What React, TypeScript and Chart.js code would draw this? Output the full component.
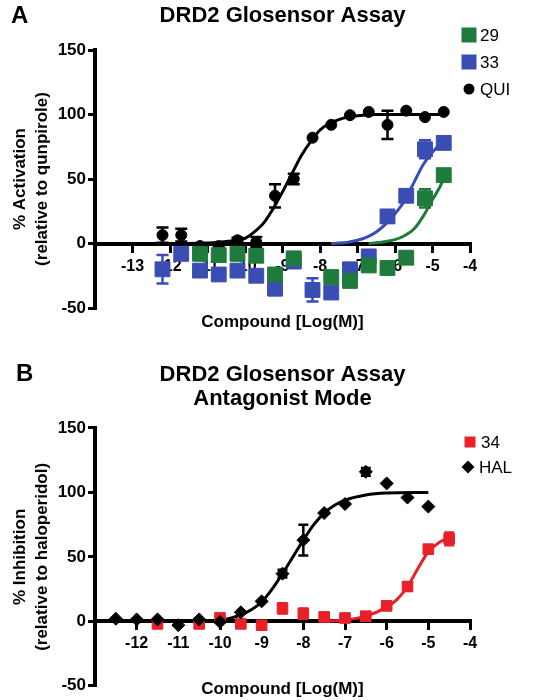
import React, { useEffect, useRef } from 'react';
import { Chart, registerables } from 'chart.js';

Chart.register(...registerables);

const FONT = "'Liberation Sans', Arial, Helvetica, sans-serif";
const GREEN = '#1f7b3b';
const BLUE = '#3a4db2';
const RED = '#e8202a';
const BLACK = '#000000';

const X_TITLE = 'Compound [Log(M)]';

// ---------------- Panel A ----------------
const A_TITLE = 'DRD2 Glosensor Assay';
const A_Y_TITLE = ['% Activation', '(relative to qunpirole)'];
const A_X = [-12.2, -11.7, -11.2, -10.7, -10.2, -9.7, -9.2, -8.7, -8.2, -7.7, -7.2, -6.7, -6.2, -5.7, -5.2, -4.7];
const A_QUI = [6.5, 6.5, -2, -2, 2.5, 1, 37, 50, 82, 92, 99.5, 102, 92, 103, 98, 102];
const A_QUI_ERR = [6, 5, 0, 0, 2, 4, 9, 4, 0, 0, 0, 0, 11, 0, 0, 0];
const A_33 = [-20, -8, -21, -24, -21, -25, -35, -14, -36, -38, -20, -10, 21, 37, 73, 78];
const A_33_ERR = [11, 0, 0, 0, 0, 0, 5, 0, 9, 0, 0, 0, 0, 0, 7, 0];
const A_29 = [null, null, -8, -9, -8, -9.5, -24, -11.5, null, -26, -29, -17, -19, -11, 35, 53];
const A_29_ERR = [0, 0, 0, 0, 0, 0, 0, 0, 0, 0, 0, 0, 0, 4, 7, 0];

const A_QUI_FIT_X = [-12.2, -11, -10.5, -10, -9.75, -9.5, -9.25, -9, -8.75, -8.5, -8.25, -8, -7.75, -7.5, -7.25, -7, -6.5, -5.5, -4.7];
const A_QUI_FIT_Y = [0, 0.4, 1.5, 4, 9, 16, 27, 40, 54, 68, 79, 88, 93, 96, 98, 99, 100, 100, 100];
const A_33_FIT_X = [-7.7, -7.5, -7.25, -7, -6.75, -6.5, -6.25, -6, -5.75, -5.5, -5.25, -5, -4.75, -4.7];
const A_33_FIT_Y = [0, 0.3, 1, 2.5, 5, 9, 15, 23, 33, 47, 61, 71, 78, 79];
const A_29_FIT_X = [-6.7, -6.5, -6.25, -6, -5.75, -5.5, -5.25, -5, -4.75, -4.7];
const A_29_FIT_Y = [0, 0.5, 1.5, 3, 6, 11, 21, 34, 47, 51];

const A_LEGEND = ['29', '33', 'QUI'];

// ---------------- Panel B ----------------
const B_TITLE = ['DRD2 Glosensor Assay', 'Antagonist Mode'];
const B_Y_TITLE = ['% Inhibition', '(relative to haloperidol)'];
const B_HAL_X = [-12.5, -12, -11.5, -11, -10.5, -10, -9.5, -9, -8.5, -8, -7.5, -7, -6.5, -6, -5.5, -5];
const B_HAL = [2, 1.5, 1.5, -3, 1.5, -0.5, 7, 15.5, 37, 63, 84, 91, 116, 107, 96, 89];
const B_HAL_ERR = [0, 0, 0, 0, 0, 0, 0, 0, 3, 12, 0, 0, 3, 0, 0, 0];
const B_34_X = [-11.5, -10.5, -10, -9.5, -9, -8.5, -8, -7.5, -7, -6.5, -6, -5.5, -5, -4.5];
const B_34 = [-2, -2, 2.6, -2, -3, 10, 6, 3.4, 2.6, 4, 12, 27, 56, 64];
const B_34_ERR = [0, 0, 0, 0, 0, 4, 4, 0, 0, 0, 2, 3, 2, 5];

const B_HAL_FIT_X = [-12.5, -10.5, -10, -9.75, -9.5, -9.25, -9, -8.75, -8.5, -8.25, -8, -7.75, -7.5, -7.25, -7, -6.5, -6, -5];
const B_HAL_FIT_Y = [0, 0.3, 1, 2.5, 5, 9, 15, 25, 37, 50, 63, 75, 84, 90, 94, 98, 99.5, 100];
const B_34_FIT_X = [-7.5, -7, -6.5, -6, -5.75, -5.5, -5.25, -5, -4.75, -4.5];
const B_34_FIT_Y = [0, 1, 4, 11, 17, 27, 41, 54, 61, 65];

const B_LEGEND = ['34', 'HAL'];

const pts = (xs: number[], ys: (number | null)[]) => xs.map((x, i) => ({ x, y: ys[i] }));

const errorBarPlugin = {
  id: 'errbars',
  beforeDatasetsDraw(chart: any) {
    const ctx = chart.ctx;
    const ys = chart.scales.y;
    chart.data.datasets.forEach((ds: any, i: number) => {
      if (!ds.errors) return;
      const meta = chart.getDatasetMeta(i);
      ctx.save();
      ctx.strokeStyle = ds.errorColor;
      ctx.lineWidth = 2.5;
      const cap = ds.capWidth || 5;
      meta.data.forEach((pt: any, j: number) => {
        const e = ds.errors[j];
        const d = ds.data[j];
        if (!e || d == null || d.y == null) return;
        const y1 = ys.getPixelForValue(d.y + e);
        const y2 = ys.getPixelForValue(d.y - e);
        ctx.beginPath();
        ctx.moveTo(pt.x, y1);
        ctx.lineTo(pt.x, y2);
        ctx.moveTo(pt.x - cap, y1);
        ctx.lineTo(pt.x + cap, y1);
        ctx.moveTo(pt.x - cap, y2);
        ctx.lineTo(pt.x + cap, y2);
        ctx.stroke();
      });
      ctx.restore();
    });
  },
};

type LegendItem = { label: string; color: string; shape: string; x: number; y: number; size: number };

function overlayPlugin(letter: string, lx: number, ly: number, items: LegendItem[]) {
  return {
    id: 'overlay',
    afterDraw(chart: any) {
      const ctx = chart.ctx;
      ctx.save();
      ctx.fillStyle = BLACK;
      ctx.textBaseline = 'middle';
      ctx.textAlign = 'left';
      ctx.font = `bold 24px ${FONT}`;
      ctx.fillText(letter, lx, ly);
      ctx.font = `17px ${FONT}`;
      items.forEach((it) => {
        ctx.fillStyle = it.color;
        const s = it.size;
        if (it.shape === 'rect') {
          ctx.fillRect(it.x - s / 2, it.y - s / 2, s, s);
        } else if (it.shape === 'circle') {
          ctx.beginPath();
          ctx.arc(it.x, it.y, s / 2, 0, Math.PI * 2);
          ctx.fill();
        } else {
          ctx.beginPath();
          ctx.moveTo(it.x, it.y - s / 2);
          ctx.lineTo(it.x + s / 2, it.y);
          ctx.lineTo(it.x, it.y + s / 2);
          ctx.lineTo(it.x - s / 2, it.y);
          ctx.closePath();
          ctx.fill();
        }
        ctx.fillStyle = BLACK;
        ctx.fillText(it.label, it.x + 11, it.y + 1);
      });
      ctx.restore();
    },
  };
}

function baseOptions(p: {
  xMin: number;
  title: string | string[];
  titlePad: { top: number; bottom: number };
  titleLH: number;
  yTitle: string[];
  xtHeight: number;
  padBottom: number;
}) {
  const tickFont = { family: FONT, size: 16, weight: 'bold' as const };
  const grid = { display: true, drawOnChartArea: false, drawTicks: true, tickLength: 7, lineWidth: 3, color: BLACK };
  const border = { display: true, color: BLACK, width: 4 };
  return {
    responsive: false,
    maintainAspectRatio: false,
    animation: false,
    devicePixelRatio: 1,
    layout: { padding: { left: 4, right: 73, top: 0, bottom: p.padBottom } },
    plugins: {
      legend: { display: false },
      tooltip: { enabled: false },
      title: {
        display: true,
        text: p.title,
        color: BLACK,
        fullSize: false,
        font: { family: FONT, size: 22, weight: 'bold' as const, lineHeight: p.titleLH },
        padding: p.titlePad,
      },
    },
    scales: {
      x: {
        type: 'linear' as const,
        min: p.xMin,
        max: -4,
        position: { y: 0 },
        afterBuildTicks: (s: any) => {
          s.ticks = s.ticks.filter((t: any) => t.value > p.xMin + 0.01);
        },
        ticks: { stepSize: 1, color: BLACK, font: { ...tickFont, size: 16 }, padding: 6, autoSkip: false, maxRotation: 0 },
        grid,
        border,
      },
      xt: {
        type: 'linear' as const,
        position: 'bottom' as const,
        min: p.xMin,
        max: -4,
        ticks: { display: false },
        grid: { display: false },
        border: { display: false },
        title: {
          display: true,
          text: X_TITLE,
          color: BLACK,
          font: { family: FONT, size: 17, weight: 'bold' as const, lineHeight: 1.2 },
          padding: 0,
        },
        afterFit: (s: any) => {
          s.height = p.xtHeight;
        },
      },
      y: {
        type: 'linear' as const,
        position: 'left' as const,
        min: -50,
        max: 150,
        ticks: { stepSize: 50, color: BLACK, font: { ...tickFont, size: 17 }, padding: 2 },
        grid,
        border,
        title: {
          display: true,
          text: p.yTitle,
          color: BLACK,
          font: { family: FONT, size: 17, weight: 'bold' as const, lineHeight: 1.3 },
          padding: { top: 5, bottom: 0 },
        },
        afterFit: (s: any) => {
          s.width = 91;
        },
      },
    },
  };
}

function markerSet(label: string, xs: number[], ys: (number | null)[], errs: number[], color: string, style: string, radius: number, order: number, cap: number) {
  return {
    label,
    data: pts(xs, ys),
    errors: errs,
    errorColor: color,
    capWidth: cap,
    showLine: false,
    pointStyle: style,
    pointRadius: radius,
    pointBackgroundColor: color,
    pointBorderColor: color,
    pointBorderWidth: 1,
    order,
    clip: false,
  };
}

function curveSet(label: string, xs: number[], ys: number[], color: string, order: number) {
  return {
    label,
    data: pts(xs, ys),
    showLine: true,
    pointRadius: 0,
    borderColor: color,
    borderWidth: 3,
    fill: false,
    cubicInterpolationMode: 'monotone',
    order,
  };
}

function buildA(): any {
  return {
    type: 'scatter',
    data: {
      datasets: [
        markerSet('29', A_X, A_29, A_29_ERR, GREEN, 'rect', 10.5, 1, 6),
        markerSet('33', A_X, A_33, A_33_ERR, BLUE, 'rect', 10.5, 2, 6),
        markerSet('QUI', A_X, A_QUI, A_QUI_ERR, BLACK, 'circle', 5.5, 3, 6),
        curveSet('29 fit', A_29_FIT_X, A_29_FIT_Y, GREEN, 10),
        curveSet('33 fit', A_33_FIT_X, A_33_FIT_Y, BLUE, 11),
        curveSet('QUI fit', A_QUI_FIT_X, A_QUI_FIT_Y, BLACK, 12),
      ],
    },
    options: baseOptions({
      xMin: -14,
      title: A_TITLE,
      titlePad: { top: 3, bottom: 20.6 },
      titleLH: 1.2,
      yTitle: A_Y_TITLE,
      xtHeight: 24.2,
      padBottom: 7.8,
    }),
    plugins: [
      errorBarPlugin,
      overlayPlugin('A', 11, 16, [
        { label: A_LEGEND[0], color: GREEN, shape: 'rect', x: 469, y: 35, size: 15 },
        { label: A_LEGEND[1], color: BLUE, shape: 'rect', x: 469, y: 62, size: 15 },
        { label: A_LEGEND[2], color: BLACK, shape: 'circle', x: 469, y: 89, size: 11 },
      ]),
    ],
  };
}

function buildB(): any {
  return {
    type: 'scatter',
    data: {
      datasets: [
        markerSet('HAL', B_HAL_X, B_HAL, B_HAL_ERR, BLACK, 'rectRot', 6.5, 1, 5),
        markerSet('34', B_34_X, B_34, B_34_ERR, RED, 'rect', 7.5, 2, 5),
        curveSet('HAL fit', B_HAL_FIT_X, B_HAL_FIT_Y, BLACK, 10),
        curveSet('34 fit', B_34_FIT_X, B_34_FIT_Y, RED, 11),
      ],
    },
    options: baseOptions({
      xMin: -13,
      title: B_TITLE,
      titlePad: { top: 23, bottom: 17 },
      titleLH: 1.09,
      yTitle: B_Y_TITLE,
      xtHeight: 14.2,
      padBottom: 0,
    }),
    plugins: [
      errorBarPlugin,
      overlayPlugin('B', 16, 34, [
        { label: B_LEGEND[0], color: RED, shape: 'rect', x: 470, y: 102, size: 11 },
        { label: B_LEGEND[1], color: BLACK, shape: 'diamond', x: 468, y: 127, size: 13 },
      ]),
    ],
  };
}

function Panel({ build, top, height }: { build: () => any; top: number; height: number }) {
  const ref = useRef<HTMLCanvasElement>(null);
  useEffect(() => {
    if (!ref.current) return;
    const chart = new Chart(ref.current, build());
    return () => chart.destroy();
  }, [build]);
  return (
    <canvas
      ref={ref}
      width={543}
      height={height}
      style={{ position: 'absolute', left: 0, top, width: 543, height, display: 'block' }}
    />
  );
}

export default function App() {
  useEffect(() => {
    document.body.style.margin = '0';
  }, []);
  return (
    <div style={{ position: 'absolute', left: 0, top: 0, width: 543, height: 700, background: '#fff' }}>
      <Panel build={buildA} top={0} height={340} />
      <Panel build={buildB} top={340} height={360} />
    </div>
  );
}
